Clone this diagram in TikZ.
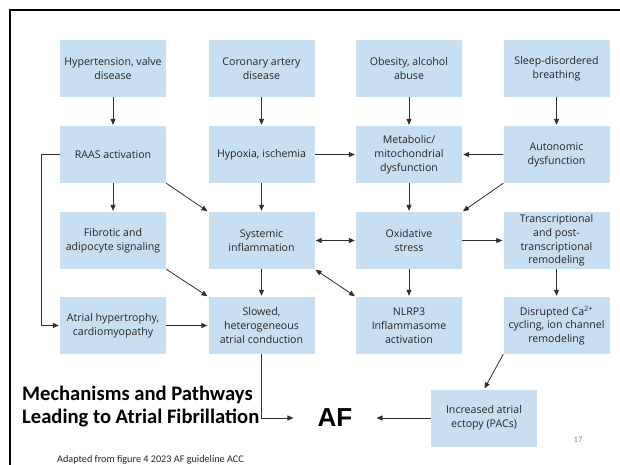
\documentclass[tikz,border=0pt]{standalone}
\usepackage{fontspec}
\setmainfont{Open Sans}
\newfontfamily\titlefont{Carlito}
\newfontfamily\affont{Liberation Sans}
\usetikzlibrary{arrows.meta}
\definecolor{boxblue}{HTML}{C8DEF1}
\definecolor{ink}{HTML}{262626}
\definecolor{wire}{HTML}{2F2F2F}
\tikzset{
  box/.style={fill=boxblue, minimum width=106pt, minimum height=57pt, inner sep=0pt,
    align=center, text=ink, font=\fontsize{10.6}{13.8}\selectfont},
  arr/.style={draw=wire, line width=0.8pt, -{Triangle[length=6pt,width=5pt]}, shorten >=1pt},
  darr/.style={draw=wire, line width=0.8pt, {Triangle[length=6pt,width=5pt]}-{Triangle[length=6pt,width=5pt]}, shorten >=1pt, shorten <=1pt},
}
\begin{document}
\begin{tikzpicture}[x=1pt, y=-1pt]
\useasboundingbox (0,0) rectangle (620,465);
\fill[white] (0,0) rectangle (620,465);
% slide frame
\draw[line width=2pt] (10,465) -- (10,10) -- (620,10);

% row 1: risk factors
\node[box] (hyp)  at (113,68.5)   {Hypertension, valve\\disease};
\node[box] (cad)  at (261.5,68.5) {Coronary artery\\disease};
\node[box] (obe)  at (409,68.5)   {Obesity, alcohol\\abuse};
\node[box] (sdb)  at (556.5,68.5) {Sleep-disordered\\breathing};
% row 2
\node[box] (raas) at (113,154.5)   {RAAS activation};
\node[box] (hypo) at (261.5,154.5) {Hypoxia, ischemia};
\node[box] (meta) at (409,154.5)   {Metabolic/\\mitochondrial\\dysfunction};
\node[box] (auto) at (556.5,154.5) {Autonomic\\dysfunction};
% row 3
\node[box] (fib)  at (113,240.5)   {Fibrotic and\\adipocyte signaling};
\node[box] (sys)  at (261.5,240.5) {Systemic\\inflammation};
\node[box] (oxi)  at (409,240.5)   {Oxidative\\stress};
\node[box] (tran) at (556.5,240.5) {Transcriptional\\and post-\\transcriptional\\remodeling};
% row 4
\node[box] (hyper) at (113,325.5)   {Atrial hypertrophy,\\cardiomyopathy};
\node[box] (slow)  at (261.5,325.5) {Slowed,\\heterogeneous\\atrial conduction};
\node[box] (nlrp)  at (409,325.5)   {NLRP3\\Inflammasome\\activation};
\node[box] (ca)    at (556.5,325.5) {Disrupted Ca\textsuperscript{2+}\\cycling, ion channel\\remodeling};
% outcome
\node[box] (ect) at (484,418) {Increased atrial\\ectopy (PACs)};
\node[inner xsep=23pt, inner ysep=2pt, text=black, font=\affont\bfseries\fontsize{26}{28}\selectfont] (af) at (335,418) {AF};

% heading
\node[anchor=west, align=left, inner sep=0pt, text=black,
  font=\titlefont\bfseries\fontsize{20.6}{23}\selectfont] (title) at (22,406.5)
  {Mechanisms and Pathways\\Leading to Atrial Fibrillation};
\node[anchor=west, inner sep=0pt, text=ink, font=\titlefont\fontsize{10.2}{12}\selectfont] (src) at (57,460)
  {Adapted from figure 4 2023 AF guideline ACC};
\node[inner sep=0pt, text=gray, font=\titlefont\fontsize{8.5}{10}\selectfont] (pg) at (578,440) {17};

% connectors
\draw[arr] (hyp) -- (raas);
\draw[arr] (cad) -- (hypo);
\draw[arr] (obe) -- (meta);
\draw[arr] (sdb) -- (auto);
\draw[arr] (hypo) -- (meta);
\draw[arr] (auto) -- (meta);
\draw[arr] (raas) -- (fib);
\draw[arr] (raas.south east) -- (sys.north west);
\draw[arr] (hypo) -- (sys);
\draw[arr] (meta) -- (oxi);
\draw[arr] (auto.south west) -- (oxi.north east);
\draw[darr] (sys) -- (oxi);
\draw[arr] (oxi) -- (tran);
\draw[arr] (fib.south east) -- (slow.north west);
\draw[arr] (sys) -- (slow);
\draw[darr] (sys.south east) -- (nlrp.north west);
\draw[arr] (oxi) -- (nlrp);
\draw[arr] (tran) -- (ca);
\draw[arr] (hyper) -- (slow);
\draw[arr] (raas.west) -- ++(-18,0) coordinate (bend) |- (hyper.west);
\draw[arr] (slow.south) |- (af.west);
\draw[arr] (ca.south west) -- (ect.north);
\draw[arr] (ect) -- (af);
\end{tikzpicture}
\end{document}
